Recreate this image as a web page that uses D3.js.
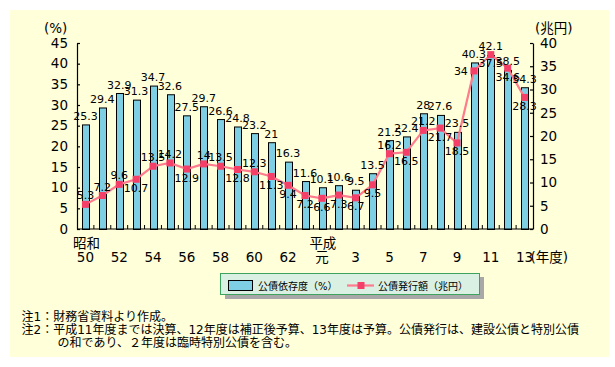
<!DOCTYPE html>
<html><head><meta charset="utf-8">
<script src="https://cdn.jsdelivr.net/npm/d3@7"></script>
<style>
body{margin:0;background:#fff}
svg{display:block}
text{font-family:"DejaVu Sans","Noto Sans CJK JP",sans-serif;fill:#000}
</style>
</head><body>
<svg id="c" width="615" height="367"></svg>
<script>
// ---- data ----
const years = ["50","51","52","53","54","55","56","57","58","59","60","61","62","63",
               "元","2","3","4","5","6","7","8","9","10","11","12","13"];
const dependency = [25.3,29.4,32.9,31.3,34.7,32.6,27.5,29.7,26.6,24.8,23.2,21,16.3,11.6,
                    10.1,10.6,9.5,13.5,21.5,22.4,28,27.6,23.5,40.3,42.1,38.5,34.3];
const issuance = [5.3,7.2,9.6,10.7,13.5,14.2,12.9,14,13.5,12.8,12.3,11.3,9.4,7.2,
                  6.6,7.3,6.7,9.5,16.2,16.5,21.2,21.7,18.5,34,37.5,34.6,28.3];
const leftTicks = [0,5,10,15,20,25,30,35,40,45];
const rightTicks = [0,5,10,15,20,25,30,35,40];
const xTickYears = ["50","52","54","56","58","60","62","元","3","5","7","9","11","13"];
const eraLabels = [["50","昭和"],["元","平成"]];
const seriesNames = ["公債依存度（%）","公債発行額（兆円）"];
const notes = ["注1：財務省資料より作成。",
  "注2：平成11年度までは決算、12年度は補正後予算、13年度は予算。公債発行は、建設公債と特別公債",
  "　　　の和であり、２年度は臨時特別公債を含む。"];

// label side for the line labels (a=above, b=below, l=left)
const issuanceLabelSide = ["a","a","a","b","a","a","b","a","a","b","a","b","b","b",
                           "b","b","b","b","a","b","a","b","b","l","b","b","b"];

// ---- styles ----
const BAR = "#7ecfe4", LINE = "#ff7b8e", MARK = "#f43f68", BG = "#ffffd9";

const svg = d3.select("#c");
svg.append("rect").attr("x",10).attr("y",10).attr("width",599).attr("height",347).attr("fill",BG);

const L = 77, R = 533, T = 43, B = 229;
const x = d3.scaleBand().domain(years).range([L,R]).paddingInner(0.6).paddingOuter(0.3);
const xc = d => x(d) + x.bandwidth()/2;
const yL = d3.scaleLinear().domain([0,45]).range([B,T]);
const yR = d3.scaleLinear().domain([0,40]).range([B,T]);

// bars
svg.append("g").selectAll("rect").data(dependency).join("rect")
  .attr("x",(d,i)=>Math.round(x(years[i]))+0.5)
  .attr("y",d=>yL(d)+0.5)
  .attr("width",Math.round(x.bandwidth()))
  .attr("height",d=>B-yL(d))
  .attr("fill",BAR).attr("stroke","#000").attr("stroke-width",1);

// axes
const axL = svg.append("g").attr("transform",`translate(${L},0)`)
  .call(d3.axisLeft(yL).tickValues(leftTicks).tickSizeInner(-3).tickSizeOuter(0).tickPadding(9));
const axR = svg.append("g").attr("transform",`translate(${R},0)`)
  .call(d3.axisRight(yR).tickValues(rightTicks).tickSizeInner(-3).tickSizeOuter(0).tickPadding(7));
[axL,axR].forEach(g=>{
  g.selectAll("path,line").attr("stroke","#000").attr("stroke-width",1.2);
  g.selectAll("text").attr("font-size",13.5).attr("font-family","DejaVu Sans");
});
// x axis line + boundary ticks
const xa = svg.append("g");
xa.append("line").attr("x1",L).attr("x2",R).attr("y1",B).attr("y2",B).attr("stroke","#000").attr("stroke-width",1.2);
xa.selectAll("line.t").data(years.slice(1)).join("line").attr("class","t")
  .attr("x1",d=>x(d)-x.step()*x.paddingInner()/2).attr("x2",d=>x(d)-x.step()*x.paddingInner()/2)
  .attr("y1",B).attr("y2",B-4).attr("stroke","#000").attr("stroke-width",1);
xa.selectAll("text.yr").data(xTickYears).join("text").attr("class","yr")
  .attr("x",d=>xc(d)).attr("y",262).attr("text-anchor","middle").attr("font-size",13.5).text(d=>d);
xa.selectAll("text.era").data(eraLabels).join("text").attr("class","era")
  .attr("x",d=>xc(d[0])+1).attr("y",248).attr("text-anchor","middle").attr("font-size",13.5)
  .attr("font-family","Noto Sans CJK JP").text(d=>d[1]);
xa.append("text").attr("x",xc("13")+6).attr("y",262).attr("font-size",13.5)
  .attr("font-family","Noto Sans CJK JP").text("(年度)");

// unit labels
svg.append("text").attr("x",44).attr("y",33).attr("font-size",13.5).attr("font-family","Noto Sans CJK JP").text("(%)");
svg.append("text").attr("x",535).attr("y",33).attr("font-size",13.5).attr("font-family","Noto Sans CJK JP").text("(兆円)");

// line
svg.append("path").datum(issuance)
  .attr("d",d3.line().x((d,i)=>xc(years[i])).y(d=>yR(d)))
  .attr("fill","none").attr("stroke",LINE).attr("stroke-width",2.2);
svg.append("g").selectAll("rect").data(issuance).join("rect")
  .attr("x",(d,i)=>xc(years[i])-3.5).attr("y",d=>yR(d)-3.5)
  .attr("width",7).attr("height",7).attr("fill",MARK);

// bar labels
svg.append("g").selectAll("text").data(dependency).join("text")
  .attr("x",(d,i)=>xc(years[i])).attr("y",d=>yL(d)-4.5)
  .attr("text-anchor","middle").attr("font-size",11).text(d=>String(d));

// line labels
svg.append("g").selectAll("text").data(issuance).join("text")
  .attr("x",(d,i)=>issuanceLabelSide[i]==="l" ? xc(years[i])-6 : xc(years[i]))
  .attr("y",(d,i)=>{const s=issuanceLabelSide[i]; return s==="a"?yR(d)-5:(s==="b"?yR(d)+12.5:yR(d)+4);})
  .attr("text-anchor",(d,i)=>issuanceLabelSide[i]==="l"?"end":"middle")
  .attr("font-size",11).text(d=>String(d));

// legend
const lg = svg.append("g");
lg.append("rect").attr("x",225).attr("y",277).attr("width",259).attr("height",22).attr("fill","#a8a8a8");
lg.append("rect").attr("x",220.5).attr("y",273.5).attr("width",259).attr("height",21).attr("fill","#d9f0e2").attr("stroke","#3da35f");
lg.append("rect").attr("x",228.5).attr("y",280.5).attr("width",24).attr("height",10).attr("fill",BAR).attr("stroke","#000");
lg.append("text").attr("x",258).attr("y",289.5).attr("font-size",10).attr("font-family","Noto Sans CJK JP").text(seriesNames[0]);
lg.append("line").attr("x1",347).attr("x2",374).attr("y1",285.5).attr("y2",285.5).attr("stroke",LINE).attr("stroke-width",2.2);
lg.append("rect").attr("x",357.5).attr("y",282).attr("width",7).attr("height",7).attr("fill",MARK);
lg.append("text").attr("x",378).attr("y",289.5).attr("font-size",10).attr("font-family","Noto Sans CJK JP").text(seriesNames[1]);

// notes
svg.append("g").selectAll("text").data(notes).join("text")
  .attr("x",21.5).attr("y",(d,i)=>320.5+i*13).attr("font-size",12)
  .attr("font-family","Noto Sans CJK JP").text(d=>d);
</script>
</body></html>
